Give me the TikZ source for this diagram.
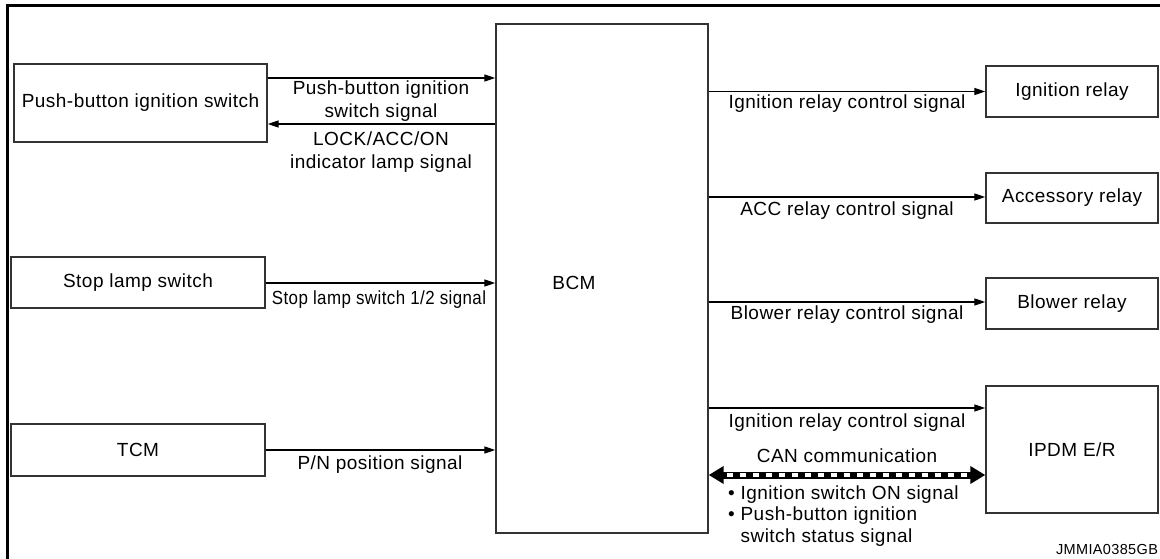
\documentclass[tikz,border=0pt]{standalone}
\usepackage{graphicx}
\usepackage{fontspec}
\setmainfont{Liberation Sans}[LetterSpace=2.5]
\usetikzlibrary{arrows.meta}
\begin{document}
\begin{tikzpicture}[x=1pt,y=-1pt,
  every node/.style={font=\fontsize{19}{23}\selectfont, inner sep=0pt},
  box/.style={draw=black!80, line width=1.4pt, minimum width=#1},
  lbl/.style={align=center},
  sig/.style={line width=1.3pt, -{Triangle[length=11pt,width=7pt]}},
  frame/.style={line width=3pt}
]
\useasboundingbox (0,0) rectangle (1160,559);
% frame
\draw[frame] (6,5.5) -- (1160,5.5);
\draw[frame] (7.5,4) -- (7.5,559);

% left boxes
\node[box=253pt, minimum height=78pt] (pbs) at (140.5,103) {Push-button ignition switch};
\node[box=254pt, minimum height=51pt] (sls) at (138,282.5) {Stop lamp switch};
\node[box=254pt, minimum height=52pt] (tcm) at (138,450) {TCM};

% BCM
\node[box=212pt, minimum height=509pt, label={[xshift=-28pt,yshift=-4.5pt]center:BCM}] (bcm) at (602,278.5) {};

% right boxes
\node[box=172pt, minimum height=51pt] (ign) at (1072,91.5) {Ignition relay};
\node[box=172pt, minimum height=50pt] (acc) at (1072,198) {Accessory relay};
\node[box=172pt, minimum height=51pt] (blw) at (1072,303.5) {Blower relay};
\node[box=172pt, minimum height=127pt] (ipdm) at (1072,449.5) {IPDM E/R};

% left connectors
\draw[sig] (pbs.east |- 0,78) -- (bcm.west |- 0,78);
\draw[sig] (bcm.west |- 0,124) -- (pbs.east |- 0,124);
\draw[sig] (sls.east |- 0,283) -- (bcm.west |- 0,283);
\draw[sig] (tcm.east |- 0,450) -- (bcm.west |- 0,450);

\node[lbl] (l1) at (381,101) {Push-button ignition\\switch signal};
\node[lbl] (l2) at (381,152) {LOCK/ACC/ON\\indicator lamp signal};
\node[lbl] (l3) at (379,300) {\scalebox{0.89}[1]{Stop lamp switch 1/2 signal}};
\node[lbl] (l4) at (380,465) {P/N position signal};

% right connectors
\draw[sig] (bcm.east |- ign.west) -- (ign.west);
\draw[sig] (bcm.east |- 0,197) -- (acc.west |- 0,197);
\draw[sig] (bcm.east |- 0,302) -- (blw.west |- 0,302);
\draw[sig] (bcm.east |- 0,408) -- (ipdm.west |- 0,408);

\node[lbl] (r1) at (847,104) {Ignition relay control signal};
\node[lbl] (r2) at (847,211) {ACC relay control signal};
\node[lbl] (r3) at (847,315) {Blower relay control signal};
\node[lbl] (r4) at (847,423) {Ignition relay control signal};

% CAN
\draw[line width=7pt, {Triangle[length=15pt,width=17pt]}-{Triangle[length=15pt,width=17pt]}] (bcm.east |- 0,475) -- (ipdm.west |- 0,475);
\draw[white, line width=3.5pt, dash pattern=on 6pt off 7pt, shorten <=18pt, shorten >=18pt] (bcm.east |- 0,475) -- (ipdm.west |- 0,475);
\node[lbl] (can) at (847,456) {CAN communication};
\node[align=left, anchor=north west, font=\fontsize{19}{21.5}\selectfont] (bul) at (728,485.5) {• Ignition switch ON signal\\• Push-button ignition\\\phantom{• }switch status signal};

\node[font=\fontsize{14.5}{16}\selectfont] (code) at (1107,550) {JMMIA0385GB};
\end{tikzpicture}
\end{document}
